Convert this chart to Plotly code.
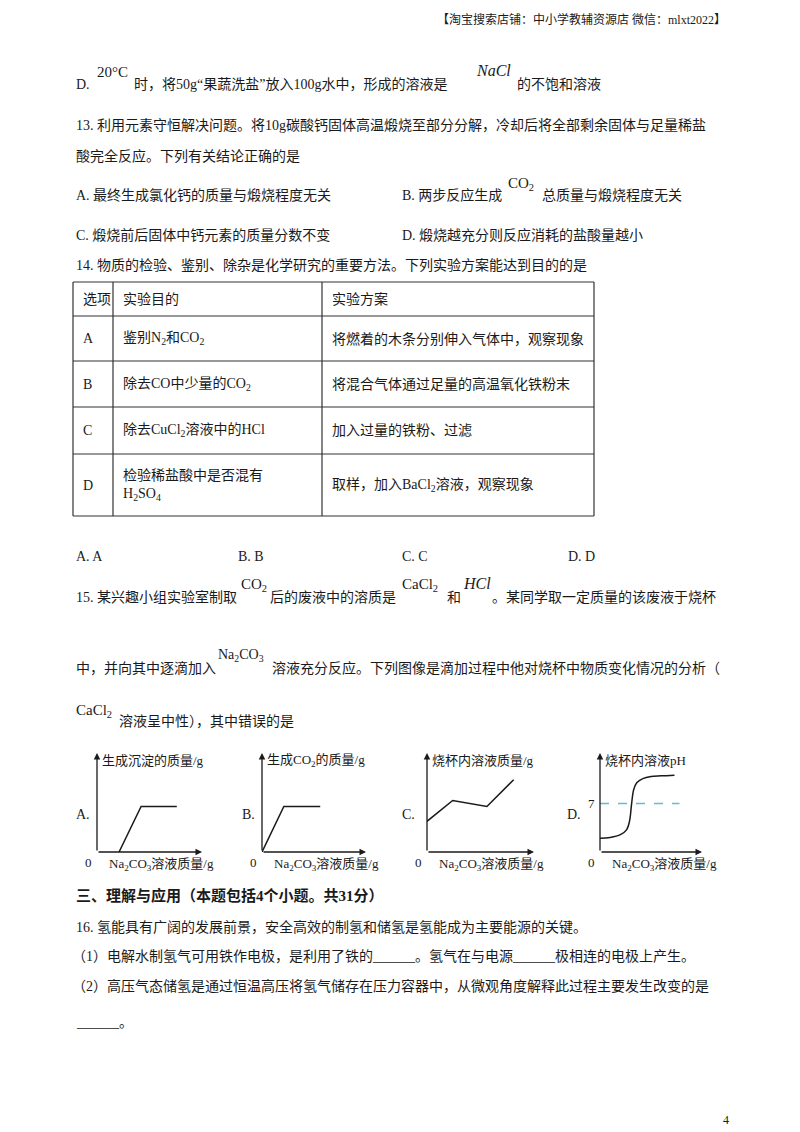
import plotly.graph_objects as go

W, H = 800, 1132
OFF = 8  # page body margin
FONT = "Liberation Serif, Noto Sans CJK SC"
C = "#1a1a1a"

# ---- chart data (abstract units: x 0..10 across axis, y 0..10 up axis) ----
a_x = [2.1, 4.2, 7.6]; a_y = [0, 4.6, 4.6]
b_x = [0, 2.1, 5.6];   b_y = [0, 4.6, 4.6]
c_x = [0, 2.4, 5.6, 8.1]; c_y = [3.1, 5.2, 4.6, 7.3]
d_x = [0, 1, 2, 2.6, 2.9, 3.1, 3.3, 3.6, 4.2, 5, 6, 7.3]
d_ph = [2.0, 2.1, 2.5, 3.2, 4.5, 7.0, 9.0, 10.0, 10.6, 10.9, 11.0, 11.1]
ph_neutral = 7
ylabels = ["生成沉淀的质量/g", "生成CO<sub>2</sub>的质量/g", "烧杯内溶液质量/g", "烧杯内溶液pH"]
letters = ["A.", "B.", "C.", "D."]
letter_x = [74, 240, 400, 565]
origins = [97, 262, 427, 600]
widths = [105, 104, 107, 102]
base_y, top_y = 852, 753

table_rows = [
    ["选项", "实验目的", "实验方案"],
    ["A", "鉴别N<sub>2</sub>和CO<sub>2</sub>", "将燃着的木条分别伸入气体中，观察现象"],
    ["B", "除去CO中少量的CO<sub>2</sub>", "将混合气体通过足量的高温氧化铁粉末"],
    ["C", "除去CuCl<sub>2</sub>溶液中的HCl", "加入过量的铁粉、过滤"],
    ["D", "检验稀盐酸中是否混有<br>H<sub>2</sub>SO<sub>4</sub>", "取样，加入BaCl<sub>2</sub>溶液，观察现象"],
]
row_lines = [282, 316, 361, 407, 454, 516]
col_lines = [73, 113, 322, 594]

fig = go.Figure()
ann = []
shapes = []

def T(x, y, s, size=14, anchor="left", **kw):
    ann.append(dict(x=x, y=y, xref="x", yref="y", text=s, showarrow=False,
                    xanchor=anchor, yanchor="middle", align="left",
                    font=dict(family=FONT, size=size, color=C, **kw)))

# header
T(728, 19, "【淘宝搜索店铺：中小学教辅资源店 微信：mlxt2022】", size=12, anchor="right")
# D line
T(74, 84, "D.")
T(95, 72, "20°C", size=15)
T(132, 84, "时，将50g“果蔬洗盐”放入100g水中，形成的溶液是")
T(474, 70, "<i>NaCl</i>", size=16)
T(515, 84, "的不饱和溶液")
# 13
T(74, 125, "13. 利用元素守恒解决问题。将10g碳酸钙固体高温煅烧至部分分解，冷却后将全部剩余固体与足量稀盐")
T(74, 156, "酸完全反应。下列有关结论正确的是")
T(74, 195, "A. 最终生成氯化钙的质量与煅烧程度无关")
T(400, 195, "B. 两步反应生成")
T(506, 184, "CO<sub>2</sub>", size=15)
T(540, 195, "总质量与煅烧程度无关")
T(74, 235, "C. 煅烧前后固体中钙元素的质量分数不变")
T(400, 235, "D. 煅烧越充分则反应消耗的盐酸量越小")
T(74, 265, "14. 物质的检验、鉴别、除杂是化学研究的重要方法。下列实验方案能达到目的的是")
# table
for y in row_lines:
    shapes.append(dict(type="line", xref="x", yref="y", x0=col_lines[0], x1=col_lines[-1], y0=y, y1=y, line=dict(color="#333", width=1.2)))
for x in col_lines:
    shapes.append(dict(type="line", xref="x", yref="y", x0=x, x1=x, y0=row_lines[0], y1=row_lines[-1], line=dict(color="#333", width=1.2)))
for i, row in enumerate(table_rows):
    yc = (row_lines[i] + row_lines[i + 1]) / 2
    for j, cell in enumerate(row):
        T(col_lines[j] + 8, yc, cell, size=14)
# answers 14
for x, s in zip([74, 236, 400, 566], ["A. A", "B. B", "C. C", "D. D"]):
    T(x, 556, s)
# 15
T(74, 597, "15. 某兴趣小组实验室制取")
T(239, 585, "CO<sub>2</sub>", size=15)
T(268, 597, "后的废液中的溶质是")
T(400, 585, "CaCl<sub>2</sub>", size=15)
T(445, 597, "和")
T(461, 583, "<i>HCl</i>", size=16)
T(490, 597, "。某同学取一定质量的该废液于烧杯")
T(74, 668, "中，并向其中逐滴加入")
T(216, 655, "Na<sub>2</sub>CO<sub>3</sub>", size=14)
T(270, 668, "溶液充分反应。下列图像是滴加过程中他对烧杯中物质变化情况的分析（")
T(74, 711, "CaCl<sub>2</sub>", size=15)
T(117, 721, "溶液呈中性），其中错误的是")

# small charts
for k, (ox, w) in enumerate(zip(origins, widths)):
    ann.append(dict(x=ox + w, y=base_y, ax=ox, ay=base_y, xref="x", yref="y", axref="x", ayref="y",
                    showarrow=True, arrowhead=2, arrowsize=1, arrowwidth=1.3, arrowcolor=C, text=""))
    ann.append(dict(x=ox, y=top_y, ax=ox, ay=base_y, xref="x", yref="y", axref="x", ayref="y",
                    showarrow=True, arrowhead=2, arrowsize=1, arrowwidth=1.3, arrowcolor=C, text=""))
    T(ox + 3, 760, ylabels[k], size=13)
    T(ox - 3, 862, "0", size=13, anchor="right")
    T(ox + 10, 864, "Na<sub>2</sub>CO<sub>3</sub>溶液质量/g", size=13)
    T(letter_x[k], 814, letters[k], size=14)
T(origins[3] - 3, 803, str(ph_neutral), size=13, anchor="right")

series = [(a_x, a_y, [0, 10]), (b_x, b_y, [0, 10]), (c_x, c_y, [0, 10]), (d_x, d_ph, [0, 14.3])]
for k, ((xs, ys, yr), ox, w) in enumerate(zip(series, origins, widths)):
    n = k + 2
    fig.add_trace(go.Scatter(x=xs, y=ys, mode="lines", line=dict(color=C, width=1.5, shape="spline" if k == 3 else "linear"),
                             xaxis=f"x{n}", yaxis=f"y{n}", showlegend=False, hoverinfo="skip"))
    fig.layout[f"xaxis{n}"] = dict(domain=[(ox - OFF) / W, (ox + w - OFF) / W], range=[0, 10], visible=False, anchor=f"y{n}")
    fig.layout[f"yaxis{n}"] = dict(domain=[1 - (base_y - OFF) / H, 1 - (top_y - OFF) / H], range=yr, visible=False, anchor=f"x{n}")
fig.add_trace(go.Scatter(x=[0, 7.8], y=[ph_neutral, ph_neutral], mode="lines",
                         line=dict(color="#5bc0d6", width=1.5, dash="dash"), xaxis="x5", yaxis="y5",
                         showlegend=False, hoverinfo="skip"))

# section 三
T(74, 895, "<b>三、理解与应用（本题包括4个小题。共31分）</b>", size=15)
T(74, 927, "16. 氢能具有广阔的发展前景，安全高效的制氢和储氢是氢能成为主要能源的关键。")
T(70, 956, "（1）电解水制氢气可用铁作电极，是利用了铁的______。氢气在与电源______极相连的电极上产生。")
T(70, 986, "（2）高压气态储氢是通过恒温高压将氢气储存在压力容器中，从微观角度解释此过程主要发生改变的是")
T(74, 1022, "______。")
T(731, 1120, "4", size=12, anchor="right")

fig.update_layout(
    width=W, height=H, margin=dict(l=0, r=0, t=0, b=0),
    paper_bgcolor="white", plot_bgcolor="white",
    xaxis=dict(range=[OFF, W + OFF], visible=False, domain=[0, 1]),
    yaxis=dict(range=[H + OFF, OFF], visible=False, domain=[0, 1]),
    annotations=ann, shapes=shapes, showlegend=False,
)
fig.write_html("out.html")
